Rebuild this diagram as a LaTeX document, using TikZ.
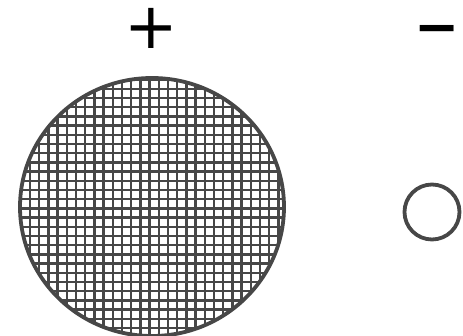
\documentclass[tikz,border=0pt]{standalone}
\usepackage{fontspec}
\newfontfamily\signfont{DejaVu Sans}
\newfontfamily\signboldfont{DejaVu Sans Bold}
\begin{document}
\begin{tikzpicture}[x=1pt,y=-1pt,
  outline/.style={draw=black!72,line width=3.8pt},
  gridline/.style={draw=black!72,line width=2.5pt},
  sign/.style={inner sep=0pt,font=\signfont\fontsize{64}{64}\selectfont},
  boldsign/.style={inner sep=0pt,anchor=base,font=\signboldfont\fontsize{54}{54}\selectfont}]
\useasboundingbox (0,0) rectangle (463,336);
\fill[white] (0,0) rectangle (463,336);
% large meshed disc
\begin{scope}
  \clip (152,207) ellipse [x radius=132, y radius=129];
  \foreach \i in {0,...,31} {
    \draw[gridline] (11.6+\i*9.2,60) -- (11.6+\i*9.2,345);
    \draw[gridline] (10,70.4+\i*9.2) -- (300,70.4+\i*9.2);
  }
\end{scope}
\draw[outline] (152,207) ellipse [x radius=132, y radius=129];
% small disc
\draw[outline] (432,212) circle [radius=27.5];
% signs
\node[sign] (plus) at (151,28) {+};
\node[boldsign] (minus) at (437.5,46) {−};
\end{tikzpicture}
\end{document}
